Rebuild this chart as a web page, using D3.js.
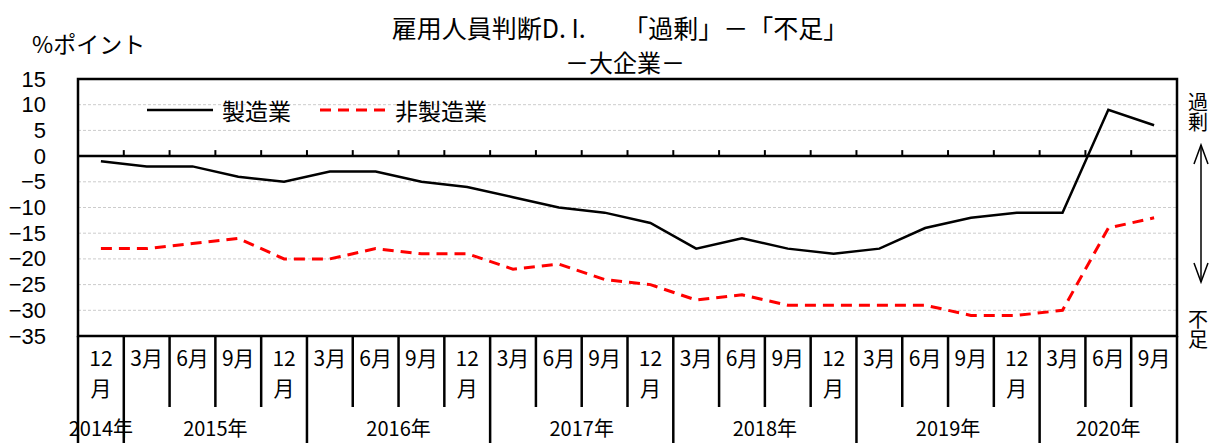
<!DOCTYPE html>
<html>
<head>
<meta charset="utf-8">
<script src="https://cdn.jsdelivr.net/npm/d3@7"></script>
<style>
  body { margin: 0; background: #fff; }
  svg text { font-family: "Noto Sans CJK JP", sans-serif; fill: #000; }
</style>
</head>
<body>
<div id="chart"></div>
<script>
// quarters shown on the x axis
const periods = ['2014-12',
  '2015-3', '2015-6', '2015-9', '2015-12',
  '2016-3', '2016-6', '2016-9', '2016-12',
  '2017-3', '2017-6', '2017-9', '2017-12',
  '2018-3', '2018-6', '2018-9', '2018-12',
  '2019-3', '2019-6', '2019-9', '2019-12',
  '2020-3', '2020-6', '2020-9'];
const monthLabels = ['12月', '3月', '6月', '9月', '12月', '3月', '6月', '9月', '12月',
  '3月', '6月', '9月', '12月', '3月', '6月', '9月', '12月', '3月', '6月', '9月', '12月',
  '3月', '6月', '9月'];
const years = ['2014年', '2015年', '2016年', '2017年', '2018年', '2019年', '2020年'];
const manufacturing = [-1, -2, -2, -4, -5, -3, -3, -5, -6, -8, -10, -11, -13,
  -18, -16, -18, -19, -18, -14, -12, -11, -11, 9, 6];
const nonManufacturing = [-18, -18, -17, -16, -20, -20, -18, -19, -19, -22, -21, -24, -25,
  -28, -27, -29, -29, -29, -29, -31, -31, -30, -14, -12];
const yTicks = [15, 10, 5, 0, -5, -10, -15, -20, -25, -30, -35];

const W = 1211, H = 443;
const pLeft = 78, pRight = 1177, pTop = 79, pBottom = 336;

const svg = d3.select('#chart').append('svg')
  .attr('width', W).attr('height', H);

const x = d3.scaleBand().domain(periods).range([pLeft, pRight]);
const y = d3.scaleLinear().domain([-35, 15]).range([pBottom, pTop]);

// title
svg.append('text').attr('x', 620).attr('y', 27)
  .attr('text-anchor', 'middle').attr('dominant-baseline', 'central')
  .style('font-size', '25px').text('雇用人員判断D. I.　　「過剰」－「不足」');
svg.append('text').attr('x', 625).attr('y', 61)
  .attr('text-anchor', 'middle').attr('dominant-baseline', 'central')
  .style('font-size', '24px').text('－大企業－');
svg.append('text').attr('x', 32).attr('y', 43)
  .attr('dominant-baseline', 'central')
  .style('font-size', '23px').text('%ポイント');

// gridlines
svg.append('g').selectAll('line')
  .data(yTicks.filter(d => d !== 15 && d !== -35 && d !== 0))
  .enter().append('line')
  .attr('x1', pLeft).attr('x2', pRight)
  .attr('y1', d => y(d)).attr('y2', d => y(d))
  .attr('stroke', '#cccccc').attr('stroke-width', 1)
  .attr('stroke-dasharray', '3,2');

// y axis labels
const yAxis = svg.append('g')
  .attr('transform', 'translate(' + pLeft + ',0)')
  .call(d3.axisLeft(y).tickValues(yTicks).tickSize(0).tickPadding(32));
yAxis.select('.domain').remove();
yAxis.selectAll('text').style('font-size', '22px')
  .style('font-family', '"Liberation Sans Narrow", "Liberation Sans", sans-serif');

// zero line with upward ticks
svg.append('line')
  .attr('x1', pLeft).attr('x2', pRight).attr('y1', y(0)).attr('y2', y(0))
  .attr('stroke', '#000').attr('stroke-width', 2.5);
svg.append('g').selectAll('line')
  .data(periods.slice(1))
  .enter().append('line')
  .attr('x1', d => x(d)).attr('x2', d => x(d))
  .attr('y1', y(0)).attr('y2', y(0) - 6)
  .attr('stroke', '#000').attr('stroke-width', 2);

// lines
const line = d3.line()
  .x((d, i) => x(periods[i]) + x.bandwidth() / 2)
  .y(d => y(d));
svg.append('path').datum(nonManufacturing)
  .attr('fill', 'none').attr('stroke', '#ff0000').attr('stroke-width', 3)
  .attr('stroke-dasharray', '11,7').attr('d', line);
svg.append('path').datum(manufacturing)
  .attr('fill', 'none').attr('stroke', '#000').attr('stroke-width', 2.5)
  .attr('d', line);

// plot border
svg.append('rect')
  .attr('x', pLeft).attr('y', pTop)
  .attr('width', pRight - pLeft).attr('height', pBottom - pTop)
  .attr('fill', 'none').attr('stroke', '#000').attr('stroke-width', 2.5);

// legend
svg.append('line').attr('x1', 147).attr('x2', 213).attr('y1', 110).attr('y2', 110)
  .attr('stroke', '#000').attr('stroke-width', 2.5);
svg.append('text').attr('x', 222).attr('y', 110).attr('dominant-baseline', 'central')
  .style('font-size', '23px').text('製造業');
svg.append('line').attr('x1', 320).attr('x2', 386).attr('y1', 110).attr('y2', 110)
  .attr('stroke', '#ff0000').attr('stroke-width', 3).attr('stroke-dasharray', '11,7');
svg.append('text').attr('x', 395).attr('y', 110).attr('dominant-baseline', 'central')
  .style('font-size', '23px').text('非製造業');

// category separators below the plot
const monthBottom = 407;
svg.append('g').selectAll('line')
  .data(periods.slice(1))
  .enter().append('line')
  .attr('x1', d => x(d)).attr('x2', d => x(d))
  .attr('y1', pBottom)
  .attr('y2', d => d.endsWith('-3') ? H : monthBottom)
  .attr('stroke', '#000').attr('stroke-width', 2.5);
[pLeft, pRight].forEach(v => {
  svg.append('line').attr('x1', v).attr('x2', v).attr('y1', pBottom).attr('y2', H)
    .attr('stroke', '#000').attr('stroke-width', 2.5);
});

// month labels
const months = svg.append('g');
periods.forEach((p, i) => {
  const cx = x(p) + x.bandwidth() / 2;
  const lab = monthLabels[i];
  if (lab === '12月') {
    months.append('text').attr('x', cx).attr('y', 357)
      .attr('text-anchor', 'middle').attr('dominant-baseline', 'central')
      .style('font-size', '21px').text('12');
    months.append('text').attr('x', cx).attr('y', 387)
      .attr('text-anchor', 'middle').attr('dominant-baseline', 'central')
      .style('font-size', '21px').text('月');
  } else {
    months.append('text').attr('x', cx).attr('y', 357)
      .attr('text-anchor', 'middle').attr('dominant-baseline', 'central')
      .style('font-size', '21px').text(lab);
  }
});

// year labels centred on their quarters
years.forEach(yr => {
  const key = yr.replace('年', '');
  const ps = periods.filter(p => p.startsWith(key + '-'));
  const x0 = x(ps[0]);
  const x1 = x(ps[ps.length - 1]) + x.bandwidth();
  svg.append('text').attr('x', (x0 + x1) / 2).attr('y', 427)
    .attr('text-anchor', 'middle').attr('dominant-baseline', 'central')
    .style('font-size', '20px').text(yr);
});

// right side annotation, written vertically
const side = svg.append('g');
[['過剰', 92], ['不足', 309]].forEach(d => {
  side.append('text').attr('x', 1198).attr('y', d[1])
    .style('writing-mode', 'vertical-rl')
    .style('font-size', '20px').text(d[0]);
});
side.append('line').attr('x1', 1201).attr('x2', 1201).attr('y1', 145).attr('y2', 282)
  .attr('stroke', '#000').attr('stroke-width', 1.5);
side.append('path').attr('d', 'M1194,164 L1201,145 L1208,164 M1194,263 L1201,282 L1208,263')
  .attr('fill', 'none').attr('stroke', '#000').attr('stroke-width', 1.5);
</script>
</body>
</html>
